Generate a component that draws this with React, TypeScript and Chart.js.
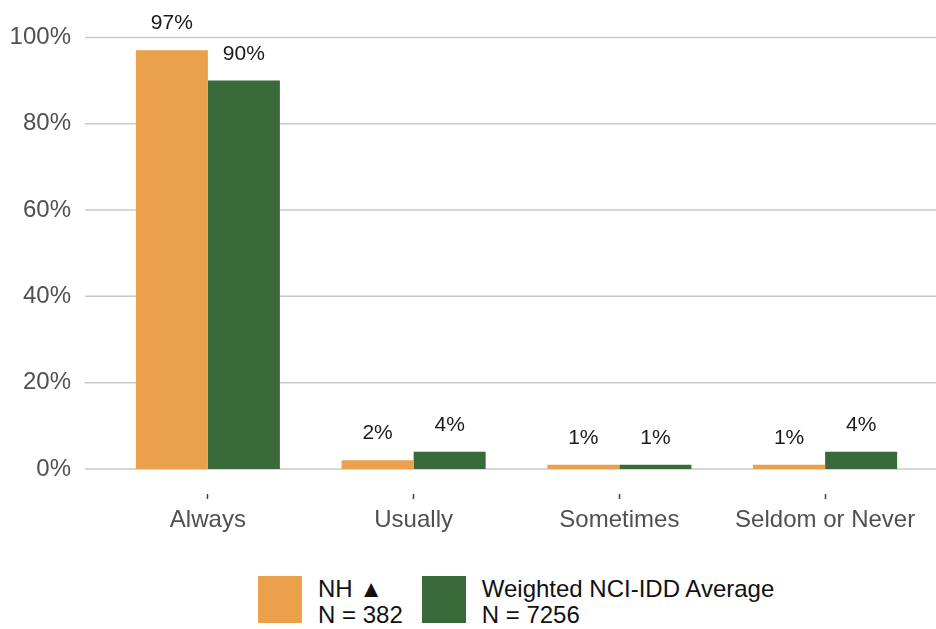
import React, { useEffect, useRef } from "react";
import { Chart, registerables } from "chart.js";

Chart.register(...registerables);

const categories = ["Always", "Usually", "Sometimes", "Seldom or Never"];
const nhValues = [97, 2, 1, 1];
const nciValues = [90, 4, 1, 4];
const seriesNames = ["NH ▲", "Weighted NCI-IDD Average"];
const seriesN = ["N = 382", "N = 7256"];
const seriesColors = ["#EBA04B", "#3A6A3A"];
const yTicks = [0, 20, 40, 60, 80, 100];

const FONT = "'Liberation Sans', Arial, sans-serif";

const gridPlugin = {
  id: "customGrid",
  beforeDatasetsDraw(chart: any) {
    const { ctx } = chart;
    const y = chart.scales.y;
    ctx.save();
    ctx.strokeStyle = "#c8c8c8";
    ctx.lineWidth = 1.5;
    yTicks.forEach((v) => {
      const py = y.getPixelForValue(v);
      ctx.beginPath();
      ctx.moveTo(85, py);
      ctx.lineTo(chart.width, py);
      ctx.stroke();
    });
    ctx.restore();
  },
};

const labelPlugin = {
  id: "barLabels",
  afterDatasetsDraw(chart: any) {
    const { ctx } = chart;
    ctx.save();
    ctx.font = `21px ${FONT}`;
    ctx.fillStyle = "#1a1a1a";
    ctx.textAlign = "center";
    ctx.textBaseline = "alphabetic";
    chart.data.datasets.forEach((ds: any, di: number) => {
      const meta = chart.getDatasetMeta(di);
      meta.data.forEach((bar: any, i: number) => {
        ctx.fillText(`${ds.data[i]}%`, bar.x, bar.y - 21);
      });
    });
    ctx.restore();
  },
};

export default function App() {
  const ref = useRef<HTMLCanvasElement | null>(null);

  useEffect(() => {
    if (!ref.current) return;
    const chart = new Chart(ref.current, {
      type: "bar",
      data: {
        labels: categories,
        datasets: [
          { label: seriesNames[0], data: nhValues, backgroundColor: seriesColors[0], categoryPercentage: 0.7, barPercentage: 1 },
          { label: seriesNames[1], data: nciValues, backgroundColor: seriesColors[1], categoryPercentage: 0.7, barPercentage: 1 },
        ],
      },
      options: {
        animation: false,
        responsive: false,
        maintainAspectRatio: false,
        layout: { padding: { top: 26, left: 0, right: 8, bottom: 0 } },
        plugins: { legend: { display: false }, tooltip: { enabled: false } },
        scales: {
          x: {
            border: { display: false },
            grid: {
              display: true,
              offset: false,
              drawOnChartArea: false,
              drawTicks: true,
              tickLength: 30,
              tickColor: "#444",
              tickWidth: 1.5,
              tickBorderDash: [0, 25, 5, 100],
            },
            ticks: { color: "#505050", font: { family: FONT, size: 24 }, padding: 7, maxRotation: 0 },
            afterFit(scale: any) {
              scale.height = 91;
            },
          },
          y: {
            min: 0,
            max: 100,
            border: { display: false },
            grid: { display: false },
            ticks: {
              stepSize: 20,
              color: "#505050",
              font: { family: FONT, size: 24 },
              padding: 26,
              callback: (v: any) => `${v}%`,
            },
            afterFit(scale: any) {
              scale.width = 105;
            },
          },
        },
      },
      plugins: [gridPlugin, labelPlugin],
    });
    return () => chart.destroy();
  }, []);

  return (
    <div style={{ position: "fixed", left: 0, top: 0, width: 936, height: 629, background: "#fff", overflow: "hidden" }}>
      <canvas ref={ref} width={936} height={563} style={{ position: "absolute", left: 0, top: -3, width: 936, height: 563 }} />
      <div style={{ position: "absolute", left: 258, top: 576, display: "flex", alignItems: "flex-start", fontFamily: FONT, fontSize: 24, lineHeight: "26px", color: "#111" }}>
        {seriesNames.map((name, i) => (
          <div key={name} style={{ display: "flex", alignItems: "flex-start", marginRight: 19 }}>
            <div style={{ width: 44, height: 47, background: seriesColors[i], marginRight: 16 }} />
            <div>
              <div>{name}</div>
              <div>{seriesN[i]}</div>
            </div>
          </div>
        ))}
      </div>
    </div>
  );
}
